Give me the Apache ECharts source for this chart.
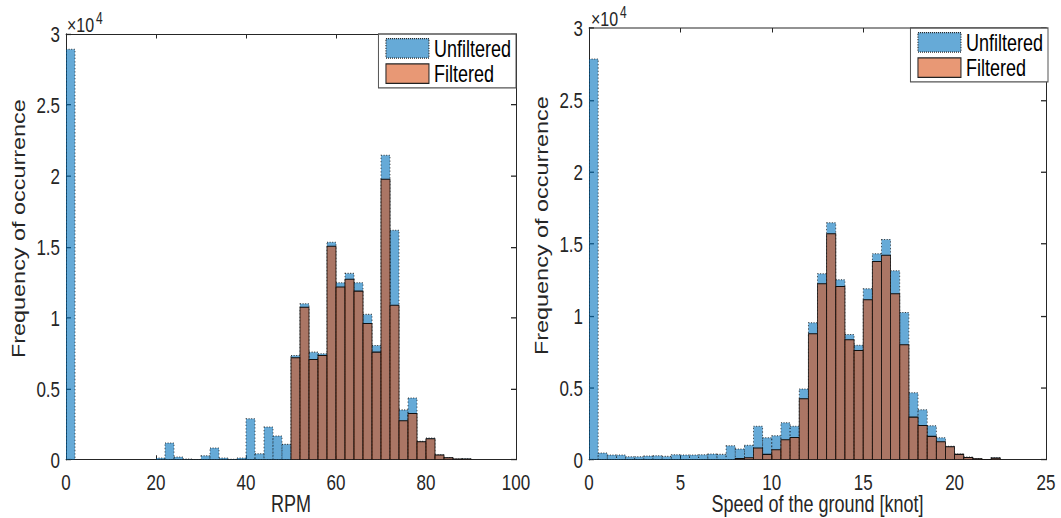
<!DOCTYPE html>
<html>
<head>
<meta charset="utf-8">
<script src="https://cdn.jsdelivr.net/npm/echarts@6/dist/echarts.min.js"></script>
<style>
  html, body { margin: 0; padding: 0; background: #fff; overflow: hidden; }
  #wrap { position: relative; width: 1061px; height: 518px; overflow: hidden; }
  /* the figure is drawn at a compressed height and stretched vertically */
  #chart { width: 1061px; height: 398.5px; transform: scaleY(1.3); transform-origin: 0 0; }
</style>
</head>
<body>
<div id="wrap"><div id="chart"></div></div>
<script>
// ---- RPM histogram (bin width 2 rpm, bins start at 0) ----
const rpmBinWidth = 2;
const rpmUnfiltered = [
  28930, 0, 0, 0, 0, 0, 0, 0, 0, 0,
  120, 1180, 190, 40, 20, 280, 820, 120, 30, 120,
  2890, 420, 2300, 1670, 1080, 7340, 10990, 7580, 7460, 15320,
  12470, 13130, 12470, 10240, 8050, 21460, 16170, 3510, 4350, 1290,
  1530, 350, 160, 50, 70
];
const rpmFiltered = [
  0, 0, 0, 0, 0, 0, 0, 0, 0, 0,
  0, 0, 0, 0, 0, 0, 0, 0, 0, 0,
  0, 0, 0, 0, 0, 7180, 10750, 7060, 7340, 15040,
  12170, 12710, 11880, 9600, 7580, 19770, 10890, 2750, 3250, 1270,
  1480, 330, 140, 40, 50
];

// ---- Speed over ground histogram (bin width 0.5 knot, bins start at 0) ----
const speedBinWidth = 0.5;
const speedUnfiltered = [
  27850, 460, 320, 320, 210, 210, 250, 280, 230, 350,
  320, 320, 350, 390, 370, 970, 740, 1000, 2320, 1530,
  1670, 2570, 2320, 4910, 9510, 12920, 16460, 12500, 8700, 7960,
  11880, 14310, 15300, 13130, 10230, 4650, 3470, 2360, 1530, 930,
  390, 190, 70, 20, 140
];
const speedFiltered = [
  0, 0, 0, 0, 0, 0, 0, 0, 0, 0,
  0, 0, 0, 0, 0, 0, 90, 140, 810, 370,
  690, 1390, 1550, 4240, 8750, 12220, 15700, 12040, 8330, 7590,
  11110, 13770, 14210, 11530, 7990, 2960, 2380, 1620, 1250, 900,
  370, 160, 60, 15, 110
];

// ---- axis ranges ----
const rpmAxis = { min: 0, max: 100, step: 20, title: 'RPM' };
const speedAxis = { min: 0, max: 25, step: 5, title: 'Speed of the ground [knot]' };
const countAxis = { min: 0, max: 30000, step: 5000, title: 'Frequency of occurrence' };
const seriesNames = ['Unfiltered', 'Filtered'];

// vertical stretch applied by CSS; py() converts page y to chart y
const SY = 1.3;
const py = (y) => y / SY;

const FONT = '"Liberation Sans", Arial, Helvetica, sans-serif';
const INK = '#262626';
const unfilteredFill = 'rgba(0,114,189,0.6)';
const filteredFill = 'rgba(217,83,25,0.6)';

function toBins(counts, width) {
  return counts.map((c, i) => [i * width, (i + 1) * width, c]);
}

function histRect(style) {
  return function (params, api) {
    const v = api.value(2);
    if (!v) return null;
    const a = api.coord([api.value(0), v]);
    const b = api.coord([api.value(1), 0]);
    return {
      type: 'rect',
      shape: { x: a[0], y: a[1], width: b[0] - a[0], height: b[1] - a[1] },
      style: style
    };
  };
}

const unfilteredStyle = { fill: unfilteredFill, stroke: 'rgba(25,25,25,0.85)', lineWidth: 0.8, lineDash: [1, 1.6] };
const filteredStyle = { fill: filteredFill, stroke: '#111', lineWidth: 0.8 };

function mainX(ax, gridIndex) {
  return {
    type: 'value', gridIndex, min: ax.min, max: ax.max, interval: ax.step,
    position: 'bottom',
    name: ax.title, nameLocation: 'middle', nameGap: 25, nameMoveOverlap: false,
    nameTextStyle: { fontFamily: FONT, fontSize: 18, color: INK },
    axisLine: { show: true, onZero: false, lineStyle: { color: INK, width: 0.8 } },
    axisTick: { show: true, inside: true, length: 3.5, lineStyle: { color: INK } },
    axisLabel: { fontFamily: FONT, fontSize: 17, color: INK, margin: 9 },
    splitLine: { show: false }
  };
}
function topX(ax, gridIndex) {
  return {
    type: 'value', gridIndex, min: ax.min, max: ax.max, interval: ax.step,
    position: 'top',
    axisLine: { show: true, onZero: false, lineStyle: { color: INK, width: 0.8 } },
    axisTick: { show: true, inside: true, length: 3.5, lineStyle: { color: INK } },
    axisLabel: { show: false },
    splitLine: { show: false }
  };
}
function mainY(gridIndex) {
  return {
    type: 'value', gridIndex, min: countAxis.min, max: countAxis.max, interval: countAxis.step,
    position: 'left',
    name: countAxis.title, nameLocation: 'middle', nameGap: 38,
    nameTextStyle: { fontFamily: FONT, fontSize: 18, color: INK, padding: [0, 0, 0, 28] },
    axisLine: { show: true, onZero: false, lineStyle: { color: INK, width: 1 } },
    axisTick: { show: true, inside: true, length: 5, lineStyle: { color: INK } },
    axisLabel: { fontFamily: FONT, fontSize: 17, color: INK, margin: 6,
      formatter: (v) => String(v / 10000) },
    splitLine: { show: false }
  };
}
function rightY(gridIndex) {
  return {
    type: 'value', gridIndex, min: countAxis.min, max: countAxis.max, interval: countAxis.step,
    position: 'right',
    axisLine: { show: true, onZero: false, lineStyle: { color: INK, width: 1 } },
    axisTick: { show: true, inside: true, length: 5, lineStyle: { color: INK } },
    axisLabel: { show: false },
    splitLine: { show: false }
  };
}

function histSeries(name, counts, width, style, axisIndex, z) {
  return {
    type: 'custom', name,
    xAxisIndex: axisIndex, yAxisIndex: axisIndex,
    data: toBins(counts, width),
    encode: { x: [0, 1], y: 2 },
    renderItem: histRect(style),
    itemStyle: { color: style.fill },
    clip: true, z, silent: true
  };
}

const legendItems = [
  { name: seriesNames[0], icon: 'rect',
    itemStyle: { color: unfilteredFill, borderColor: '#222', borderWidth: 1, borderType: 'dotted' } },
  { name: seriesNames[1], icon: 'rect',
    itemStyle: { color: filteredFill, borderColor: '#222', borderWidth: 1 } }
];
function legendAt(right, top) {
  return {
    data: legendItems, orient: 'vertical', right, top,
    selectedMode: false,
    backgroundColor: '#fff', borderColor: '#555', borderWidth: 1,
    padding: [2, 5, 2, 7], itemGap: 1.5,
    itemWidth: 43, itemHeight: 15,
    textStyle: { fontFamily: FONT, fontSize: 18, color: '#000', lineHeight: 17 }
  };
}

function exponentLabel(x, yMain, ySup) {
  return [
    { type: 'text', x, y: py(yMain), silent: true,
      style: { text: '\u00d710', fontFamily: FONT, fontSize: 16, fill: INK, verticalAlign: 'middle', align: 'left' } },
    { type: 'text', x: x + 29, y: py(ySup), silent: true,
      style: { text: '4', fontFamily: FONT, fontSize: 12, fill: INK, verticalAlign: 'middle', align: 'left' } }
  ];
}

const option = {
  backgroundColor: '#fff',
  animation: false,
  grid: [
    { left: 66, right: 1061 - 516, top: py(34), bottom: py(59), outerBoundsMode: 'none', containLabel: false },
    { left: 589, right: 1061 - 1046, top: py(28), bottom: py(59), outerBoundsMode: 'none', containLabel: false }
  ],
  xAxis: [mainX(rpmAxis, 0), topX(rpmAxis, 0), mainX(speedAxis, 1), topX(speedAxis, 1)],
  yAxis: [mainY(0), rightY(0), mainY(1), rightY(1)],
  legend: [legendAt(1061 - 516, py(34)), legendAt(1061 - 1048, py(28))],
  graphic: [].concat(exponentLabel(67, 25, 18), exponentLabel(591, 19, 12)),
  series: [
    histSeries(seriesNames[0], rpmUnfiltered, rpmBinWidth, unfilteredStyle, 0, 2),
    histSeries(seriesNames[1], rpmFiltered, rpmBinWidth, filteredStyle, 0, 3),
    histSeries(seriesNames[0], speedUnfiltered, speedBinWidth, unfilteredStyle, 2, 2),
    histSeries(seriesNames[1], speedFiltered, speedBinWidth, filteredStyle, 2, 3)
  ]
};

const chart = echarts.init(document.getElementById('chart'), null, { renderer: 'svg' });
chart.setOption(option);
</script>
</body>
</html>
